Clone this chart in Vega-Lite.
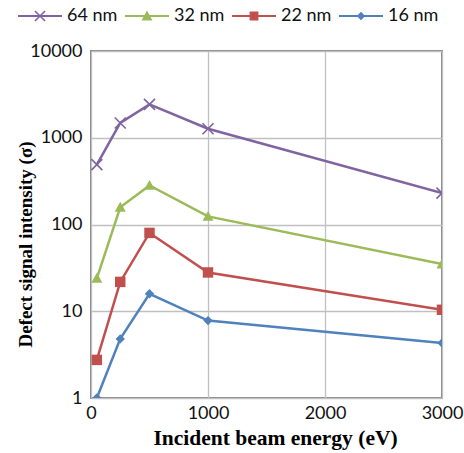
{
  "$schema": "https://vega.github.io/schema/vega-lite/v6.json",
  "autosize": {"type": "none"},
  "width": 351,
  "height": 347,
  "padding": {"left": 91, "top": 51, "right": 22, "bottom": 55},
  "background": "white",
  "config": {
    "view": {"stroke": "#868686", "strokeWidth": 2},
    "axis": {
      "domain": false,
      "ticks": false,
      "tickSize": 0,
      "gridColor": "#c0c0c0",
      "gridWidth": 1.3,
      "labelFont": "Lato",
      "labelFontSize": 18,
      "labelColor": "#111111",
      "titleFont": "Liberation Serif",
      "titleFontWeight": "bold",
      "titleColor": "#000000"
    }
  },
  "data": {
    "values": [
      {"series": "64 nm", "energy": 50, "intensity": 490},
      {"series": "64 nm", "energy": 250, "intensity": 1480},
      {"series": "64 nm", "energy": 500, "intensity": 2420},
      {"series": "64 nm", "energy": 1000, "intensity": 1270},
      {"series": "64 nm", "energy": 3000, "intensity": 230},
      {"series": "32 nm", "energy": 50, "intensity": 24},
      {"series": "32 nm", "energy": 250, "intensity": 158},
      {"series": "32 nm", "energy": 500, "intensity": 282},
      {"series": "32 nm", "energy": 1000, "intensity": 124},
      {"series": "32 nm", "energy": 3000, "intensity": 35},
      {"series": "22 nm", "energy": 50, "intensity": 2.75},
      {"series": "22 nm", "energy": 250, "intensity": 21.8},
      {"series": "22 nm", "energy": 500, "intensity": 80},
      {"series": "22 nm", "energy": 1000, "intensity": 28},
      {"series": "22 nm", "energy": 3000, "intensity": 10.4},
      {"series": "16 nm", "energy": 50, "intensity": 1},
      {"series": "16 nm", "energy": 250, "intensity": 4.8},
      {"series": "16 nm", "energy": 500, "intensity": 15.9},
      {"series": "16 nm", "energy": 1000, "intensity": 7.8},
      {"series": "16 nm", "energy": 3000, "intensity": 4.3}
    ]
  },
  "encoding": {
    "x": {
      "field": "energy",
      "type": "quantitative",
      "scale": {"domain": [0, 3000], "nice": false},
      "axis": {
        "values": [0, 1000, 2000, 3000],
        "format": "d",
        "labelPadding": 6,
        "labelFlush": false,
        "title": "Incident beam energy (eV)",
        "titleFontSize": 21.5,
        "titleX": 184,
        "titleY": 46,
        "titleBaseline": "alphabetic"
      }
    },
    "y": {
      "field": "intensity",
      "type": "quantitative",
      "scale": {"type": "log", "domain": [1, 10000], "nice": false},
      "axis": {
        "values": [1, 10, 100, 1000, 10000],
        "format": "d",
        "labelPadding": 9,
        "labelFlush": false,
        "title": "Defect signal intensity (σ)",
        "titleFontSize": 19,
        "titleX": -60,
        "titleY": 193,
        "titleBaseline": "alphabetic"
      }
    },
    "color": {
      "field": "series",
      "type": "nominal",
      "scale": {
        "domain": ["64 nm", "32 nm", "22 nm", "16 nm"],
        "range": ["#8064A2", "#9BBB59", "#C0504D", "#4F81BD"]
      },
      "legend": {
        "title": null,
        "orient": "none",
        "direction": "horizontal",
        "legendX": -73,
        "legendY": -57,
        "padding": 0,
        "symbolSize": 1936,
        "symbolOpacity": 1,
        "symbolStrokeWidth": 0,
        "labelFont": "Lato",
        "labelFontSize": 18,
        "labelColor": "#111111",
        "labelOffset": 5,
        "columnPadding": 7,
        "encode": {
          "symbols": {
            "update": {
              "fill": {"scale": "color", "field": "value"},
              "fillOpacity": {"value": 1},
              "opacity": {"value": 1},
              "strokeWidth": {"value": 0}
            }
          }
        }
      }
    }
  },
  "layer": [
    {
      "mark": {"type": "line", "strokeWidth": 2.5, "clip": true}
    },
    {
      "transform": [{"filter": "datum.series === '64 nm'"}],
      "mark": {
        "type": "point",
        "filled": true,
        "opacity": 1,
        "size": 121,
        "clip": true,
        "shape": "M-0.894,-1.106L1.106,0.894L0.894,1.106L-1.106,-0.894ZM1.106,-0.894L-0.894,1.106L-1.106,0.894L0.894,-1.106Z"
      }
    },
    {
      "transform": [{"filter": "datum.series === '32 nm'"}],
      "mark": {
        "type": "point",
        "filled": true,
        "opacity": 1,
        "size": 121,
        "clip": true,
        "shape": "M0,-1L1,0.8L-1,0.8Z"
      }
    },
    {
      "transform": [{"filter": "datum.series === '22 nm'"}],
      "mark": {
        "type": "point",
        "filled": true,
        "opacity": 1,
        "size": 121,
        "clip": true,
        "shape": "M-0.95,-0.95H0.95V0.95H-0.95Z"
      }
    },
    {
      "transform": [{"filter": "datum.series === '16 nm'"}],
      "mark": {
        "type": "point",
        "filled": true,
        "opacity": 1,
        "size": 121,
        "clip": true,
        "shape": "M0,-0.85L0.85,0L0,0.85L-0.85,0Z"
      }
    },
    {
      "mark": {"type": "point", "filled": true, "opacity": 0},
      "encoding": {
        "shape": {
          "field": "series",
          "type": "nominal",
          "scale": {
            "domain": ["64 nm", "32 nm", "22 nm", "16 nm"],
            "range": [
              "M-1,-0.05H1V0.05H-1ZM-0.205,-0.255L0.255,0.205L0.205,0.255L-0.255,-0.205ZM0.255,-0.205L-0.205,0.255L-0.255,0.205L0.205,-0.255Z",
              "M-1,-0.05H1V0.05H-1ZM0,-0.25L0.25,0.2L-0.25,0.2Z",
              "M-1,-0.05H1V0.05H-1ZM-0.2,-0.2H0.2V0.2H-0.2Z",
              "M-1,-0.05H1V0.05H-1ZM0,-0.19L0.19,0L0,0.19L-0.19,0Z"
            ]
          },
          "legend": {"title": null}
        }
      }
    }
  ]
}
